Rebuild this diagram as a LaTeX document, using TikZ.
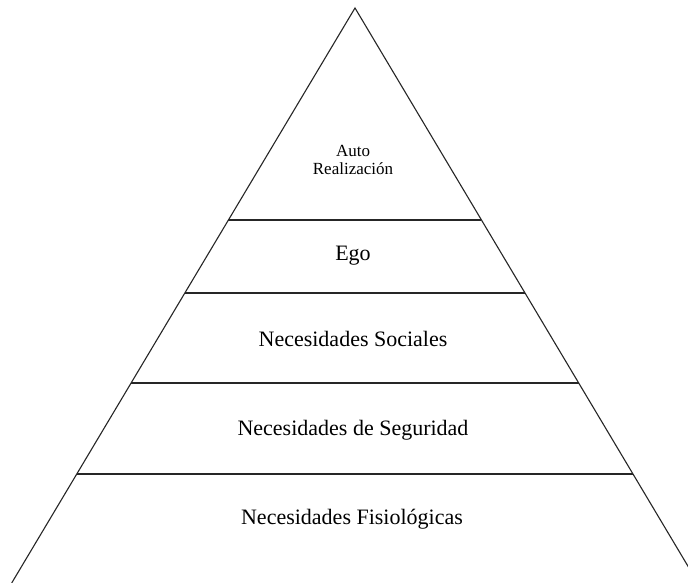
\documentclass[tikz,border=0pt]{standalone}
\usepackage{fontspec}
\setmainfont{Liberation Serif}
\usetikzlibrary{calc}
\tikzset{
  edge/.style={line width=1.1pt, draw=black!85},
  level/.style={font=\fontsize{22}{26}\selectfont, inner sep=0pt, anchor=center},
  toplevel/.style={font=\fontsize{17}{18}\selectfont, inner sep=0pt, align=center, anchor=center}
}
\begin{document}
\begin{tikzpicture}[x=1pt, y=-1pt]
  \useasboundingbox (0,0) rectangle (688,583);
  \fill[white] (0,0) rectangle (688,583);
  % apex and the two sides, running past the lower edge
  \coordinate (apex) at (355,8);
  \coordinate (baseL) at (11.7,583);
  \coordinate (baseR) at (698,583);
  \begin{scope}
    \clip (0,0) rectangle (688,583);
    \draw[edge] (baseL) -- (apex) -- (baseR);
  \end{scope}
  % dividing lines between the levels
  \foreach \f [count=\i] in {0.3687,0.4957,0.6522,0.8104} {
    \coordinate (l\i) at ($(apex)!\f!(baseL)$);
    \coordinate (r\i) at ($(apex)!\f!(baseR)$);
    \draw[edge] (l\i) -- (r\i);
  }
  % level labels
  \node[toplevel] (top) at (353,160) {Auto\\Realización};
  \node[level] (ego) at (353,256) {Ego};
  \node[level] (soc) at (353,339) {Necesidades Sociales};
  \node[level] (seg) at (353,430) {Necesidades de Seguridad};
  \node[level] (fis) at (352,519) {Necesidades Fisiológicas};
\end{tikzpicture}
\end{document}
